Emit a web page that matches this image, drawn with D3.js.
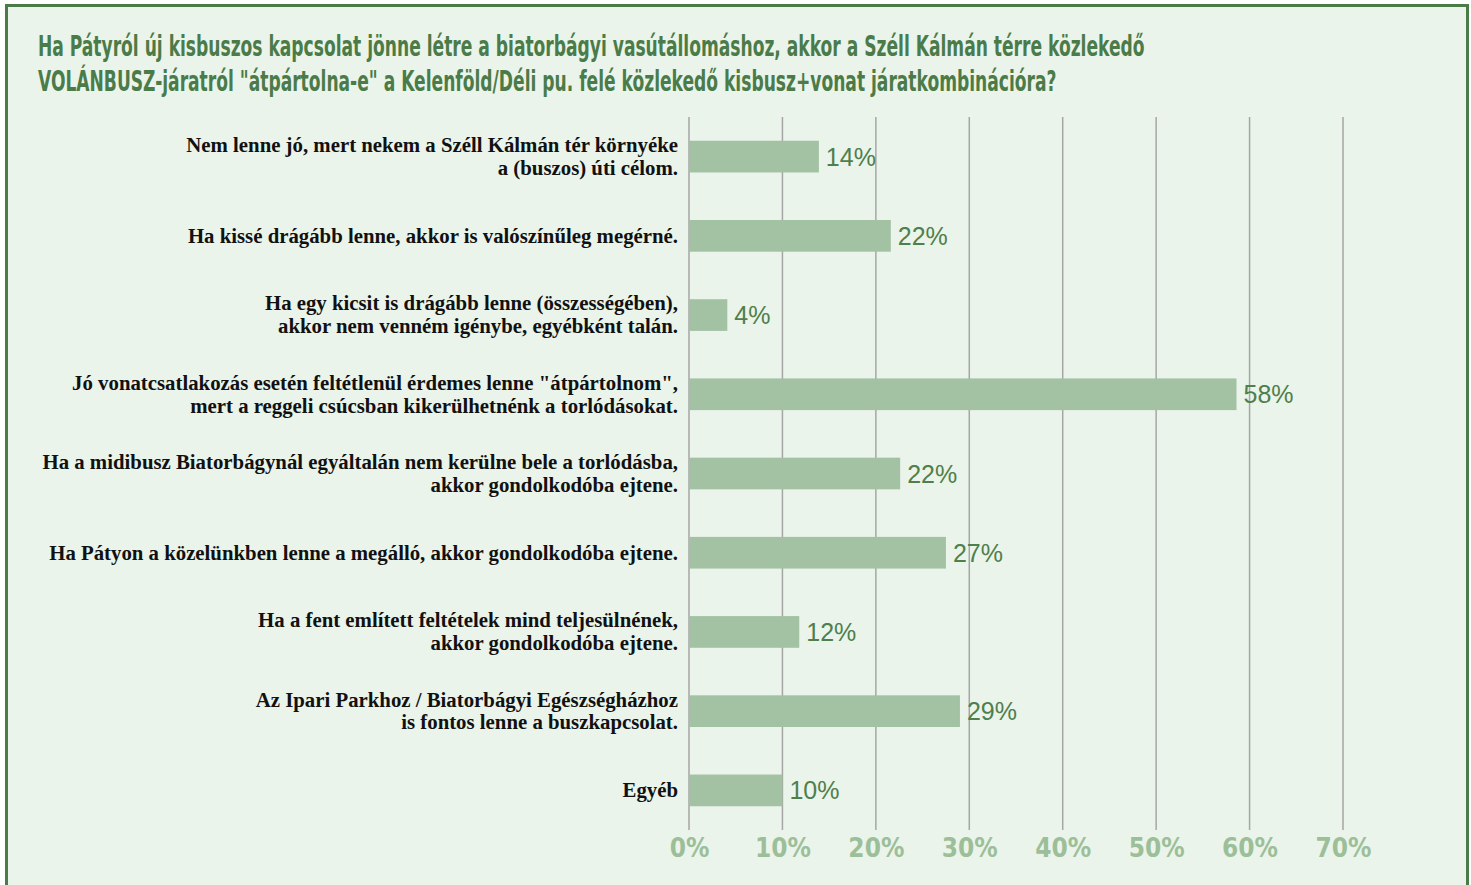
<!DOCTYPE html>
<html>
<head>
<meta charset="utf-8">
<script src="https://cdn.jsdelivr.net/npm/d3@7"></script>
<style>
  html, body { margin: 0; padding: 0; background: #ffffff; }
  svg { display: block; }
  .title { font-family: "Liberation Sans Narrow", "DejaVu Sans Condensed", sans-serif; font-weight: bold; fill: #4b7b48; font-size: 28px; }
  .cat { font-family: "Liberation Serif", "DejaVu Serif", serif; font-weight: bold; fill: #111; font-size: 20.8px; }
  .val { font-family: "Liberation Sans", Arial, sans-serif; fill: #4f7f4c; font-size: 25px; }
  .tick-lbl { font-family: "Liberation Sans Narrow", "DejaVu Sans Condensed", sans-serif; font-weight: bold; fill: #9cbf99; font-size: 26px; }
</style>
</head>
<body>
<svg id="chart" width="1471" height="885"></svg>
<script>
// chart data
const titleLines = [
    "Ha Pátyról új kisbuszos kapcsolat jönne létre a biatorbágyi vasútállomáshoz, akkor a Széll Kálmán térre közlekedő",
    "VOLÁNBUSZ-járatról \"átpártolna-e\" a Kelenföld/Déli pu. felé közlekedő kisbusz+vonat járatkombinációra?"
];
const categories = [
    ["Nem lenne jó, mert nekem a Széll Kálmán tér környéke", "a (buszos) úti célom."],
    ["Ha kissé drágább lenne, akkor is valószínűleg megérné."],
    ["Ha egy kicsit is drágább lenne (összességében),", "akkor nem venném igénybe, egyébként talán."],
    ["Jó vonatcsatlakozás esetén feltétlenül érdemes lenne \"átpártolnom\",", "mert a reggeli csúcsban kikerülhetnénk a torlódásokat."],
    ["Ha a midibusz Biatorbágynál egyáltalán nem kerülne bele a torlódásba,", "akkor gondolkodóba ejtene."],
    ["Ha Pátyon a közelünkben lenne a megálló, akkor gondolkodóba ejtene."],
    ["Ha a fent említett feltételek mind teljesülnének,", "akkor gondolkodóba ejtene."],
    ["Az Ipari Parkhoz / Biatorbágyi Egészségházhoz", "is fontos lenne a buszkapcsolat."],
    ["Egyéb"]
];
const values = [0.139, 0.216, 0.041, 0.586, 0.226, 0.275, 0.118, 0.290, 0.100];
const valueLabels = ["14%", "22%", "4%", "58%", "22%", "27%", "12%", "29%", "10%"];
const xTicks = [0, 0.1, 0.2, 0.3, 0.4, 0.5, 0.6, 0.7];

const svg = d3.select("#chart");

// background + frame
svg.append("rect")
    .attr("x", 0).attr("y", 0)
    .attr("width", 1471).attr("height", 885)
    .attr("fill", "#ffffff");
svg.append("rect")
    .attr("x", 6.5).attr("y", 5.5)
    .attr("width", 1461).attr("height", 900)
    .attr("fill", "#eaf4ea")
    .attr("stroke", "#4b7b48")
    .attr("stroke-width", 3);

// title - no narrow font installed, so squeeze the whole block evenly
let titleG = svg.append("g");
titleG.selectAll("text")
    .data(titleLines)
  .join("text")
    .attr("class", "title")
    .attr("x", 0)
    .attr("y", (d, i) => i * 35)
    .text(d => d);
let firstW = titleG.select("text").node().getComputedTextLength();
let sx = 1107 / firstW;
titleG.attr("transform", `translate(38,56) scale(${sx},1)`);

const x = d3.scaleLinear()
    .domain([0, 0.7])
    .range([689, 1343]);

const y = d3.scaleBand()
    .domain(d3.range(categories.length))
    .range([117, 830])
    .paddingInner(0.6)
    .paddingOuter(0.3);

// gridlines
svg.append("g")
    .selectAll("line")
    .data(xTicks)
  .join("line")
    .attr("x1", d => x(d)).attr("x2", d => x(d))
    .attr("y1", 117).attr("y2", 830)
    .attr("stroke", "#a6a6a6")
    .attr("stroke-width", 1.5);

// x axis labels
const xAxis = d3.axisBottom(x)
    .tickValues(xTicks)
    .tickFormat(d3.format(".0%"))
    .tickSize(0)
    .tickPadding(0);

const axG = svg.append("g")
    .attr("transform", "translate(0,834)")
    .call(xAxis);
axG.select(".domain").remove();
axG.selectAll("text")
    .attr("class", "tick-lbl")
    .attr("fill", null)
    .attr("font-size", null)
    .attr("font-family", null)
    .attr("dy", "0.9em");

// bars
svg.append("g")
    .selectAll("rect")
    .data(values)
  .join("rect")
    .attr("x", x(0))
    .attr("y", (d, i) => y(i))
    .attr("width", d => x(d) - x(0))
    .attr("height", y.bandwidth())
    .attr("fill", "#a3c1a3");

// value labels
svg.append("g")
    .selectAll("text")
    .data(values)
  .join("text")
    .attr("class", "val")
    .attr("x", d => x(d) + 7)
    .attr("y", (d, i) => y(i) + y.bandwidth() / 2)
    .attr("dy", "0.36em")
    .text((d, i) => valueLabels[i]);

// category labels
const catG = svg.append("g")
    .selectAll("text")
    .data(categories)
  .join("text")
    .attr("class", "cat")
    .attr("text-anchor", "end")
    .attr("x", 678)
    .attr("y", (d, i) => y(i) + y.bandwidth() / 2);

catG.selectAll("tspan")
    .data(d => d.map((t, j) => ({ t, j, n: d.length })))
  .join("tspan")
    .attr("x", 678)
    .attr("dy", d => d.j == 0 ? (0.33 - (d.n - 1) * 0.55) + "em" : "1.1em")
    .text(d => d.t);
</script>
</body>
</html>
